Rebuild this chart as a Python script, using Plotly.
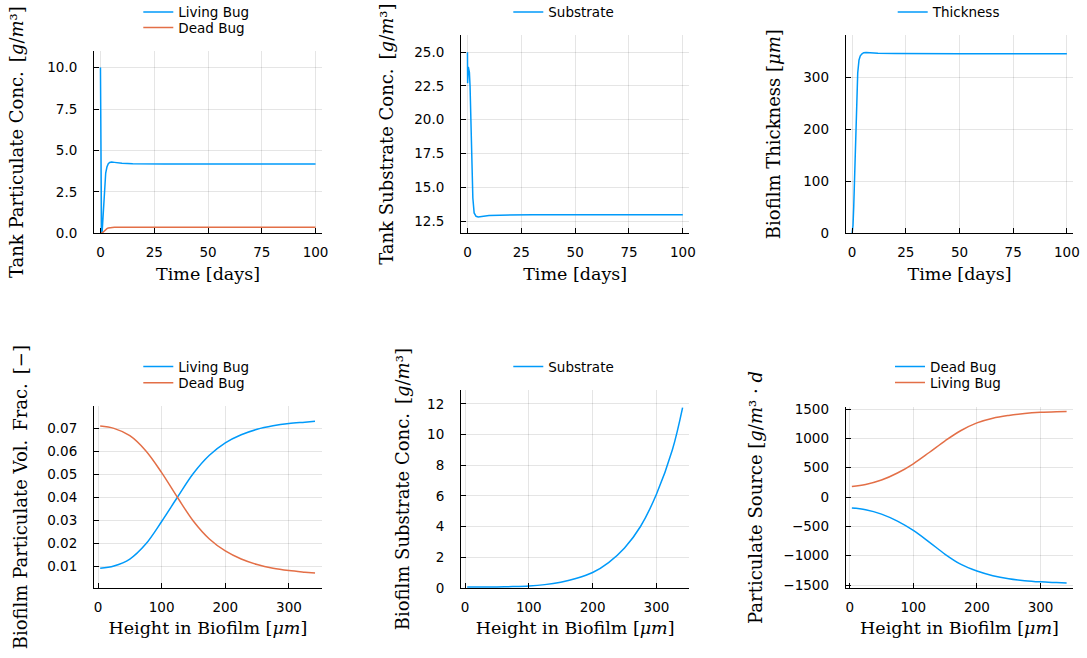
import plotly.graph_objects as go

W, H = 1087, 658
BLUE = "#009AFA"
ORANGE = "#E36F47"

# ---------------- data ----------------
# top-left: tank particulate concentration vs time
t_bug = [0, 0.15, 0.5, 0.8, 1.0, 1.33, 1.7, 2.05, 2.44, 3.0, 3.65, 4.3, 5.2, 6.5, 8, 10, 15, 20, 30, 50, 75, 100]
tank_living = [10, 0.15, 0.03, 0.1, 0.5, 1.6, 2.6, 3.2, 3.64, 4.0, 4.2, 4.27, 4.3, 4.28, 4.25, 4.22, 4.19, 4.18, 4.18, 4.18, 4.18, 4.18]
tank_dead = [0, 0.0, 0.01, 0.02, 0.04, 0.08, 0.13, 0.18, 0.23, 0.28, 0.32, 0.34, 0.355, 0.365, 0.37, 0.37, 0.37, 0.37, 0.37, 0.37, 0.37, 0.37]

# top-middle: tank substrate vs time
t_sub = [0, 0.08, 0.4, 0.9, 1.2, 1.55, 1.85, 2.15, 2.5, 3.1, 4, 5, 7, 10, 15, 20, 30, 50, 75, 100]
tank_sub = [25, 22.7, 23.9, 23.5, 22.5, 20, 17.5, 15, 14.2, 13.1, 12.85, 12.8, 12.85, 12.9, 12.93, 12.95, 12.96, 12.96, 12.96, 12.96]

# top-right: biofilm thickness vs time
t_thk = [0, 0.2, 0.4, 0.74, 1.1, 1.54, 2.0, 2.6, 3.2, 3.8, 4.6, 5.4, 6.5, 8, 12, 20, 30, 50, 75, 100]
thickness = [0, 4, 15, 51, 110, 179, 243, 308, 333, 341, 345, 347, 347.5, 347, 346, 345.5, 345, 345, 345, 345]

# bottom row: profiles vs height in biofilm
z = [3.4, 25, 50, 75, 100, 125, 150, 175, 200, 225, 250, 275, 300, 325, 341]
frac_living = [0.0093, 0.0103, 0.0133, 0.0198, 0.0296, 0.0402, 0.0505, 0.0583, 0.0637, 0.0672, 0.0696, 0.0711, 0.0721, 0.0727, 0.0731]
frac_dead = [0.0710, 0.0700, 0.0668, 0.0603, 0.0508, 0.0400, 0.0297, 0.0220, 0.0168, 0.0133, 0.0109, 0.0093, 0.0083, 0.0076, 0.0072]
biofilm_sub = [0.05, 0.05, 0.06, 0.08, 0.12, 0.21, 0.37, 0.62, 1.0, 1.65, 2.6, 4.0, 6.1, 9.0, 11.75]
src_dead = [-187, -215, -290, -410, -568, -767, -975, -1148, -1261, -1340, -1392, -1425, -1445, -1458, -1466]
src_living = [182, 215, 290, 410, 568, 760, 960, 1135, 1265, 1345, 1392, 1425, 1445, 1456, 1460]

# ---------------- labels ----------------
X_TIME = "Time [days]"
X_HEIGHT = "Height in Biofilm [<i>μm</i>]"
SP = "\u2002"
Y_TITLES = [
    f"Tank Particulate Conc.{SP}[<i>g</i>/<i>m</i>³]",
    f"Tank Substrate Conc.{SP}[<i>g</i>/<i>m</i>³]",
    "Biofilm Thickness [<i>μm</i>]",
    f"Biofilm Particulate Vol.{SP}Frac.{SP}[−]",
    f"Biofilm Substrate Conc.{SP}[<i>g</i>/<i>m</i>³]",
    "Particulate Source [<i>g</i>/<i>m</i>³ · <i>d</i>",
]
y_title_standoff = [18, 15, 17, 14, 12, 16]
x_title_standoff = [9, 9, 9, 8, 8, 8]

# panel frames in pixels: (left, right, top, bottom)
frames = [
    (94, 322, 51, 233.3),
    (461, 689.3, 35, 233.3),
    (845.7, 1073.3, 35, 233.3),
    (94, 321.7, 406, 588.3),
    (461, 689.3, 390, 588.3),
    (845.7, 1073.3, 406.7, 588.3),
]
xranges = [[-3, 103]] * 3 + [[-6.3, 351.5]] * 3
yranges = [[0, 11.0], [11.59, 26.27], [0, 381], [0.0006, 0.0797], [-0.03, 12.9], [-1555, 1541]]
ytickvals = [
    [0, 2.5, 5, 7.5, 10],
    [12.5, 15, 17.5, 20, 22.5, 25],
    [0, 100, 200, 300],
    [0.01, 0.02, 0.03, 0.04, 0.05, 0.06, 0.07],
    [0, 2, 4, 6, 8, 10, 12],
    [-1500, -1000, -500, 0, 500, 1000, 1500],
]
ytickfmt = [".1f", ".1f", "d", ".2f", "d", "d"]
xtickvals = [[0, 25, 50, 75, 100]] * 3 + [[0, 100, 200, 300]] * 3

# series per panel: (x, y, name, colour, legend text start px, legend row centre px)
series = [
    [(t_bug, tank_living, "Living Bug", BLUE, 178.3, 12.3), (t_bug, tank_dead, "Dead Bug", ORANGE, 178.3, 27.7)],
    [(t_sub, tank_sub, "Substrate", BLUE, 548.3, 12.3)],
    [(t_thk, thickness, "Thickness", BLUE, 932.7, 12.3)],
    [(z, frac_living, "Living Bug", BLUE, 178.3, 366.7), (z, frac_dead, "Dead Bug", ORANGE, 178.3, 383.0)],
    [(z, biofilm_sub, "Substrate", BLUE, 548.3, 366.7)],
    [(z, src_dead, "Dead Bug", BLUE, 930, 366.7), (z, src_living, "Living Bug", ORANGE, 930, 382.7)],
]

LEG_TEXT_OFFSET = 40   # px from legend box left to text start
LEG_ROW_OFFSET = 15.5  # px from legend box top to the row centre

fig = go.Figure()
TICKFONT = dict(family="DejaVu Sans", size=13.5, color="black")
YTITLEFONT = dict(family="DejaVu Serif", size=18, color="black")
XTITLEFONT = dict(family="DejaVu Serif", size=17.5, color="black")

layout = dict(
    width=W, height=H, autosize=False,
    margin=dict(l=0, r=0, t=0, b=0, pad=0, autoexpand=False),
    paper_bgcolor="white", plot_bgcolor="white",
    showlegend=True,
)

leg_i = 0
for i in range(6):
    n = "" if i == 0 else str(i + 1)
    smooth = i >= 3
    for xs, ys, name, col, lx, ly in series[i]:
        leg = "legend" if leg_i == 0 else f"legend{leg_i + 1}"
        leg_i += 1
        fig.add_trace(go.Scatter(
            x=xs, y=ys, mode="lines", name=name,
            line=dict(color=col, width=1.5, shape="spline" if smooth else "linear", smoothing=1.0),
            xaxis="x" + n, yaxis="y" + n, legend=leg,
        ))
        layout[leg] = dict(
            x=(lx - LEG_TEXT_OFFSET) / W, xanchor="left",
            y=1 - (ly - LEG_ROW_OFFSET) / H, yanchor="top",
            bgcolor="rgba(0,0,0,0)", borderwidth=0,
            font=dict(family="DejaVu Sans", size=13.5, color="black"),
            itemwidth=30,
        )
    l, r, t, b = frames[i]
    common = dict(
        showline=True, linecolor="black", linewidth=1, mirror=False,
        ticks="inside", ticklen=5, tickwidth=1, tickcolor="black",
        showgrid=True, gridcolor="rgba(0,0,0,0.1)", gridwidth=1,
        zeroline=False, tickfont=TICKFONT,
    )
    layout["xaxis" + n] = dict(
        common, domain=[l / W, r / W], range=xranges[i], anchor="y" + n,
        tickmode="array", tickvals=xtickvals[i], ticklabelstandoff=6,
        title=dict(text=X_TIME if i < 3 else X_HEIGHT, font=XTITLEFONT, standoff=x_title_standoff[i]),
    )
    layout["yaxis" + n] = dict(
        common, domain=[1 - b / H, 1 - t / H], range=yranges[i], anchor="x" + n,
        tickmode="array", tickvals=ytickvals[i], tickformat=ytickfmt[i], ticklabelstandoff=13,
        title=dict(text=Y_TITLES[i], font=YTITLEFONT, standoff=y_title_standoff[i]),
    )

fig.update_layout(**layout)
fig.write_html("out.html", config={"displayModeBar": False},
               post_script="document.body.style.margin='0';")
